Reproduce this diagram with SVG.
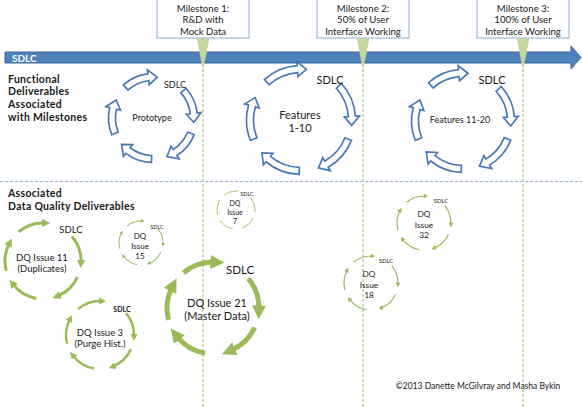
<svg xmlns="http://www.w3.org/2000/svg" xmlns:xlink="http://www.w3.org/1999/xlink" width="582" height="407" viewBox="0 0 582 407">
<style>
text{font-family:Lato,"Open Sans","Liberation Sans",sans-serif;fill:#1a1a1a}
.lbl{font-weight:bold;font-size:10.5px;letter-spacing:0.3px}
.ms rect{fill:#fff;stroke:#8eaad0;stroke-width:1}
.ms text{font-size:9.6px;text-anchor:middle}
.tri{fill:#c3d69b}
.bseg{fill:#fff;stroke:#4a7ab5;stroke-width:1.7;stroke-linejoin:miter}
.c{text-anchor:middle}
.g{fill:none;stroke:#9bbb59}
.guide{stroke:#9bbb59;stroke-width:1;stroke-dasharray:3,2;fill:none}
</style>
<defs>
<path id="b41" d="M44.5,0 A44.5,44.5 0 0 1 36.23,25.84 L39.48,28.16 L27.43,30.47 L27.27,19.45 L30.53,21.78 A37.5,37.5 0 0 0 37.5,0 Z"/>
<path id="b51" d="M54.5,0 A54.5,54.5 0 0 1 42.95,33.56 L46.1,36.02 L34.12,37.9 L34.28,26.78 L37.43,29.25 A47.5,47.5 0 0 0 47.5,0 Z"/>
<path id="b48" d="M51.5,0 A51.5,51.5 0 0 1 41.13,30.99 L44.32,33.4 L32.12,35.67 L32.34,24.37 L35.54,26.78 A44.5,44.5 0 0 0 44.5,0 Z"/>
<marker id="ah" viewBox="0 0 10 10" refX="3" refY="5" markerWidth="2.8" markerHeight="2.8" orient="auto" markerUnits="strokeWidth"><path d="M0,0 L10,5 L0,10 Z" fill="#9bbb59"/></marker>
<marker id="ahs" viewBox="0 0 10 10" refX="3" refY="5" markerWidth="4" markerHeight="4" orient="auto" markerUnits="strokeWidth"><path d="M0,0 L10,5 L0,10 Z" fill="#9bbb59"/></marker>
<marker id="ahl" viewBox="0 0 10 10" refX="3" refY="5" markerWidth="4" markerHeight="4" orient="auto" markerUnits="strokeWidth"><path d="M0,0 L10,5 L0,10 Z" fill="#c9dba4"/></marker>
<path id="g38" d="M38,0 A38,38 0 0 1 28.24,25.43"/>
<path id="g34" d="M34,0 A34,34 0 0 1 25.27,22.75"/>
<path id="g46" d="M46,0 A46,46 0 0 1 34.18,30.78"/>
<path id="g19" d="M19,0 A19,19 0 0 1 14.12,12.71"/>
<path id="g22" d="M22,0 A22,22 0 0 1 16.35,14.72"/>
<path id="g27" d="M27,0 A27,27 0 0 1 20.06,18.07"/>
</defs>
<rect width="582" height="407" fill="#fff"/>

<g id="guides">
<line class="guide" x1="203" y1="64" x2="203" y2="407"/>
<line class="guide" x1="363" y1="64" x2="363" y2="407"/>
<line class="guide" x1="523" y1="64" x2="523" y2="407"/>
<line x1="0" y1="181.5" x2="582" y2="181.5" stroke="#95b3d7" stroke-width="1" stroke-dasharray="3,2"/>
</g>

<g id="sdlc-timeline">
<path d="M5,52 L571,52 L571,46 L581,57.5 L571,69 L571,63 L5,63 Z" fill="#4f81bd" stroke="#3a6596" stroke-width="1"/>
<text x="12" y="61.5" style="fill:#fff;font-weight:bold;font-size:10px">SDLC</text>
</g>

<g id="milestone-1" class="ms">
<rect x="157" y="-1" width="92" height="39"/>
<polygon class="tri" points="196.5,38 209.5,38 203,70"/>
<text x="203" y="11.5">Milestone 1:</text>
<text x="203" y="23.3">R&amp;D with</text>
<text x="203" y="35.1">Mock Data</text>
</g>
<g id="milestone-2" class="ms">
<rect x="317" y="-1" width="92" height="39"/>
<polygon class="tri" points="356.5,38 369.5,38 363,70"/>
<text x="363" y="11.5">Milestone 2:</text>
<text x="363" y="23.3">50% of User</text>
<text x="363" y="35.1">Interface Working</text>
</g>
<g id="milestone-3" class="ms">
<rect x="477" y="-1" width="92" height="39"/>
<polygon class="tri" points="516.5,38 529.5,38 523,70"/>
<text x="523" y="11.5">Milestone 3:</text>
<text x="523" y="23.3">100% of User</text>
<text x="523" y="35.1">Interface Working</text>
</g>

<g id="label-functional">
<text x="8" y="82.5" class="lbl">Functional</text>
<text x="8" y="95.2" class="lbl">Deliverables</text>
<text x="8" y="107.9" class="lbl">Associated</text>
<text x="8" y="120.6" class="lbl">with Milestones</text>
</g>
<g id="label-dq">
<text x="8" y="197" class="lbl">Associated</text>
<text x="8" y="210" class="lbl">Data Quality Deliverables</text>
</g>

<g id="cycle-prototype">
<g transform="translate(153,118)">
<use xlink:href="#b41" class="bseg" transform="rotate(228)"/>
<use xlink:href="#b41" class="bseg" transform="rotate(318)"/>
<use xlink:href="#b41" class="bseg" transform="rotate(22)"/>
<use xlink:href="#b41" class="bseg" transform="rotate(92)"/>
<use xlink:href="#b41" class="bseg" transform="rotate(158)"/>
</g>
<text x="175" y="88" class="c" font-size="9">SDLC</text>
<text x="152" y="121" class="c" font-size="9">Prototype</text>
</g>

<g id="cycle-features-1-10">
<g transform="translate(301,120)">
<use xlink:href="#b51" class="bseg" transform="rotate(228)"/>
<use xlink:href="#b51" class="bseg" transform="rotate(318)"/>
<use xlink:href="#b51" class="bseg" transform="rotate(22)"/>
<use xlink:href="#b51" class="bseg" transform="rotate(92)"/>
<use xlink:href="#b51" class="bseg" transform="rotate(158)"/>
</g>
<text x="330" y="84" class="c" font-size="11">SDLC</text>
<text x="300" y="118.5" class="c" font-size="11">Features</text>
<text x="300" y="132" class="c" font-size="11">1-10</text>
</g>

<g id="cycle-features-11-20">
<g transform="translate(463,121)">
<use xlink:href="#b48" class="bseg" transform="rotate(228)"/>
<use xlink:href="#b48" class="bseg" transform="rotate(318)"/>
<use xlink:href="#b48" class="bseg" transform="rotate(22)"/>
<use xlink:href="#b48" class="bseg" transform="rotate(92)"/>
<use xlink:href="#b48" class="bseg" transform="rotate(158)"/>
</g>
<text x="492" y="84" class="c" font-size="11">SDLC</text>
<text x="460" y="123" class="c" font-size="9">Features 11-20</text>
</g>

<g id="dq-11">
<g transform="translate(43,261)" class="g" stroke-width="3" marker-end="url(#ah)">
<use xlink:href="#g38" transform="rotate(230)"/>
<use xlink:href="#g38" transform="rotate(320)"/>
<use xlink:href="#g38" transform="rotate(25)"/>
<use xlink:href="#g38" transform="rotate(100)"/>
<use xlink:href="#g38" transform="rotate(165)"/>
</g>
<text x="71" y="233" class="c" font-size="9.5">SDLC</text>
<text x="42" y="260.5" class="c" font-size="9.5">DQ Issue 11</text>
<text x="42" y="272" class="c" font-size="9.5">(Duplicates)</text>
</g>

<g id="dq-15">
<g transform="translate(141,243)" class="g" stroke-width="1" marker-end="url(#ahs)">
<use xlink:href="#g22" transform="rotate(230)"/>
<use xlink:href="#g22" transform="rotate(320)"/>
<use xlink:href="#g22" transform="rotate(25)"/>
<use xlink:href="#g22" transform="rotate(100)"/>
<use xlink:href="#g22" transform="rotate(165)"/>
</g>
<text x="157" y="229" class="c" font-size="5.5">SDLC</text>
<text x="140" y="239" class="c" font-size="8">DQ</text>
<text x="140" y="249" class="c" font-size="8">Issue</text>
<text x="140" y="259" class="c" font-size="8">15</text>
</g>

<g id="dq-7">
<g transform="translate(236,210)" class="g" stroke="#c9dba4" stroke-width="0.8" marker-end="url(#ahl)">
<use xlink:href="#g19" transform="rotate(230)"/>
<use xlink:href="#g19" transform="rotate(320)"/>
<use xlink:href="#g19" transform="rotate(25)"/>
<use xlink:href="#g19" transform="rotate(100)"/>
<use xlink:href="#g19" transform="rotate(165)"/>
</g>
<text x="247" y="196" class="c" font-size="5.5">SDLC</text>
<text x="235" y="206" class="c" font-size="7">DQ</text>
<text x="235" y="215" class="c" font-size="7">Issue</text>
<text x="235" y="224" class="c" font-size="7">7</text>
</g>

<g id="dq-21">
<g transform="translate(213,308)" class="g" stroke-width="5" marker-end="url(#ah)">
<use xlink:href="#g46" transform="rotate(230)"/>
<use xlink:href="#g46" transform="rotate(320)"/>
<use xlink:href="#g46" transform="rotate(25)"/>
<use xlink:href="#g46" transform="rotate(100)"/>
<use xlink:href="#g46" transform="rotate(165)"/>
</g>
<text x="240" y="274" class="c" font-size="11.5">SDLC</text>
<text x="217" y="306.5" class="c" font-size="11">DQ Issue 21</text>
<text x="217" y="320" class="c" font-size="11">(Master Data)</text>
</g>

<g id="dq-3">
<g transform="translate(100,335)" class="g" stroke-width="2.5" marker-end="url(#ah)">
<use xlink:href="#g34" transform="rotate(230)"/>
<use xlink:href="#g34" transform="rotate(320)"/>
<use xlink:href="#g34" transform="rotate(25)"/>
<use xlink:href="#g34" transform="rotate(100)"/>
<use xlink:href="#g34" transform="rotate(165)"/>
</g>
<text x="122" y="312" class="c" font-size="7" font-weight="bold">SDLC</text>
<text x="100" y="335.5" class="c" font-size="9.5">DQ Issue 3</text>
<text x="100" y="347" class="c" font-size="9.5">(Purge Hist.)</text>
</g>

<g id="dq-32">
<g transform="translate(424,223)" class="g" stroke-width="1.2" marker-end="url(#ahs)">
<use xlink:href="#g27" transform="rotate(230)"/>
<use xlink:href="#g27" transform="rotate(320)"/>
<use xlink:href="#g27" transform="rotate(25)"/>
<use xlink:href="#g27" transform="rotate(100)"/>
<use xlink:href="#g27" transform="rotate(165)"/>
</g>
<text x="441" y="203" class="c" font-size="6">SDLC</text>
<text x="424" y="217" class="c" font-size="8.3">DQ</text>
<text x="424" y="227.5" class="c" font-size="8.3">Issue</text>
<text x="424" y="238" class="c" font-size="8.3">32</text>
</g>

<g id="dq-18">
<g transform="translate(371,283)" class="g" stroke-width="1.2" marker-end="url(#ahs)">
<use xlink:href="#g27" transform="rotate(230)"/>
<use xlink:href="#g27" transform="rotate(320)"/>
<use xlink:href="#g27" transform="rotate(25)"/>
<use xlink:href="#g27" transform="rotate(100)"/>
<use xlink:href="#g27" transform="rotate(165)"/>
</g>
<text x="386" y="263" class="c" font-size="6">SDLC</text>
<text x="369" y="277" class="c" font-size="8.3">DQ</text>
<text x="369" y="287.5" class="c" font-size="8.3">Issue</text>
<text x="369" y="298" class="c" font-size="8.3">18</text>
</g>

<text id="copyright" x="478" y="389" class="c" font-size="8.5">©2013 Danette McGilvray and Masha Bykin</text>
</svg>
